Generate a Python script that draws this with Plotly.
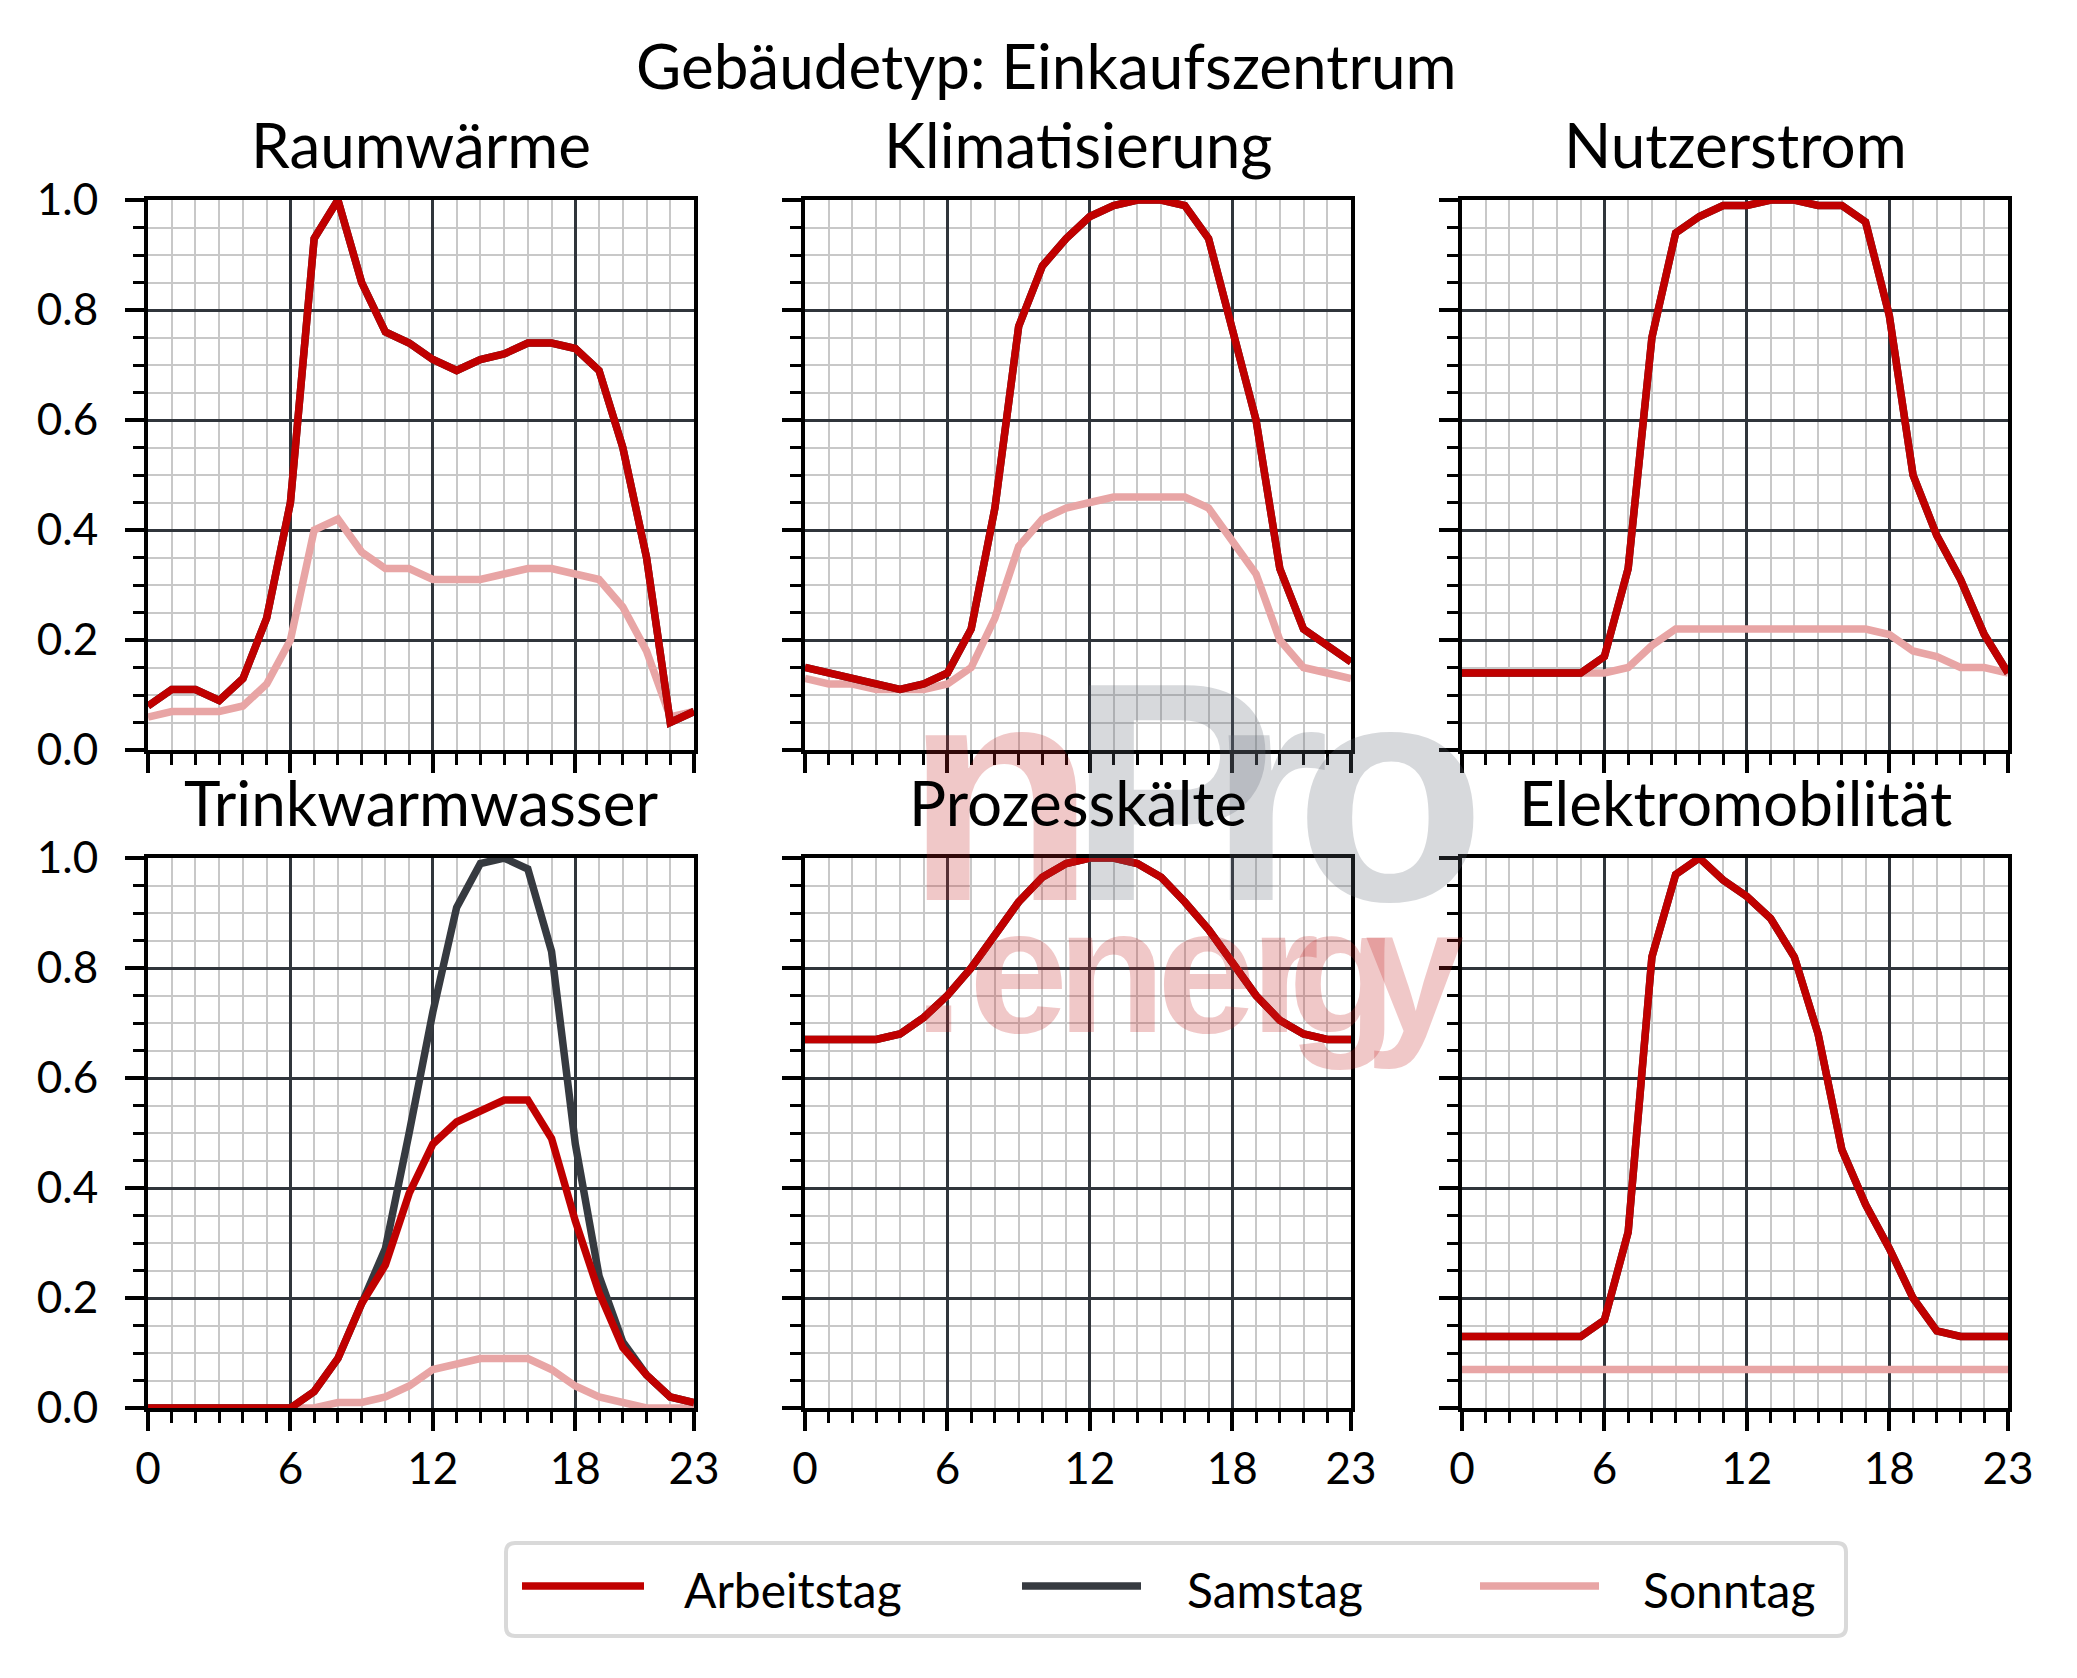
import plotly.graph_objects as go
from plotly.subplots import make_subplots

# Stunden des Tages
stunden = list(range(24))

titel = "Gebäudetyp: Einkaufszentrum"
panel_titel = ["Raumwärme", "Klimatisierung", "Nutzerstrom",
               "Trinkwarmwasser", "Prozesskälte", "Elektromobilität"]
tage = ["Arbeitstag", "Samstag", "Sonntag"]
farben = {"Arbeitstag": "#c00000", "Samstag": "#363a40", "Sonntag": "#e8a5a5"}

x_tickwerte = [0, 6, 12, 18, 23]
y_tickwerte = [0.0, 0.2, 0.4, 0.6, 0.8, 1.0]

# Normierte Tagesprofile
raumwaerme_arbeitstag = [0.08, 0.11, 0.11, 0.09, 0.13, 0.24, 0.45, 0.93, 1.00, 0.85, 0.76, 0.74,
                         0.71, 0.69, 0.71, 0.72, 0.74, 0.74, 0.73, 0.69, 0.55, 0.35, 0.05, 0.07]
raumwaerme_samstag = raumwaerme_arbeitstag
raumwaerme_sonntag = [0.06, 0.07, 0.07, 0.07, 0.08, 0.12, 0.20, 0.40, 0.42, 0.36, 0.33, 0.33,
                      0.31, 0.31, 0.31, 0.32, 0.33, 0.33, 0.32, 0.31, 0.26, 0.18, 0.06, 0.07]

klima_arbeitstag = [0.15, 0.14, 0.13, 0.12, 0.11, 0.12, 0.14, 0.22, 0.44, 0.77, 0.88, 0.93,
                    0.97, 0.99, 1.00, 1.00, 0.99, 0.93, 0.76, 0.60, 0.33, 0.22, 0.19, 0.16]
klima_samstag = klima_arbeitstag
klima_sonntag = [0.13, 0.12, 0.12, 0.11, 0.11, 0.11, 0.12, 0.15, 0.24, 0.37, 0.42, 0.44,
                 0.45, 0.46, 0.46, 0.46, 0.46, 0.44, 0.38, 0.32, 0.20, 0.15, 0.14, 0.13]

nutzer_arbeitstag = [0.14, 0.14, 0.14, 0.14, 0.14, 0.14, 0.17, 0.33, 0.75, 0.94, 0.97, 0.99,
                     0.99, 1.00, 1.00, 0.99, 0.99, 0.96, 0.79, 0.50, 0.39, 0.31, 0.21, 0.14]
nutzer_samstag = nutzer_arbeitstag
nutzer_sonntag = [0.14, 0.14, 0.14, 0.14, 0.14, 0.14, 0.14, 0.15, 0.19, 0.22, 0.22, 0.22,
                  0.22, 0.22, 0.22, 0.22, 0.22, 0.22, 0.21, 0.18, 0.17, 0.15, 0.15, 0.14]

tww_arbeitstag = [0.00, 0.00, 0.00, 0.00, 0.00, 0.00, 0.00, 0.03, 0.09, 0.19, 0.26, 0.39,
                  0.48, 0.52, 0.54, 0.56, 0.56, 0.49, 0.34, 0.21, 0.11, 0.06, 0.02, 0.01]
tww_samstag = [0.00, 0.00, 0.00, 0.00, 0.00, 0.00, 0.00, 0.03, 0.09, 0.19, 0.29, 0.50,
               0.72, 0.91, 0.99, 1.00, 0.98, 0.83, 0.48, 0.24, 0.12, 0.06, 0.02, 0.01]
tww_sonntag = [0.00, 0.00, 0.00, 0.00, 0.00, 0.00, 0.00, 0.00, 0.01, 0.01, 0.02, 0.04,
               0.07, 0.08, 0.09, 0.09, 0.09, 0.07, 0.04, 0.02, 0.01, 0.00, 0.00, 0.00]

kaelte_arbeitstag = [0.67, 0.67, 0.67, 0.67, 0.68, 0.71, 0.75, 0.80, 0.86, 0.92, 0.965, 0.99,
                     1.00, 1.00, 0.99, 0.965, 0.92, 0.87, 0.81, 0.75, 0.705, 0.68, 0.67, 0.67]
kaelte_samstag = kaelte_arbeitstag
kaelte_sonntag = kaelte_arbeitstag

emob_arbeitstag = [0.13, 0.13, 0.13, 0.13, 0.13, 0.13, 0.16, 0.32, 0.82, 0.97, 1.00, 0.96,
                   0.93, 0.89, 0.82, 0.68, 0.47, 0.37, 0.29, 0.20, 0.14, 0.13, 0.13, 0.13]
emob_samstag = emob_arbeitstag
emob_sonntag = [0.07] * 24

profile = [
    {"Arbeitstag": raumwaerme_arbeitstag, "Samstag": raumwaerme_samstag, "Sonntag": raumwaerme_sonntag},
    {"Arbeitstag": klima_arbeitstag, "Samstag": klima_samstag, "Sonntag": klima_sonntag},
    {"Arbeitstag": nutzer_arbeitstag, "Samstag": nutzer_samstag, "Sonntag": nutzer_sonntag},
    {"Arbeitstag": tww_arbeitstag, "Samstag": tww_samstag, "Sonntag": tww_sonntag},
    {"Arbeitstag": kaelte_arbeitstag, "Samstag": kaelte_samstag, "Sonntag": kaelte_sonntag},
    {"Arbeitstag": emob_arbeitstag, "Samstag": emob_samstag, "Sonntag": emob_sonntag},
]

W, H = 2077, 1678
RAND = 8  # Seitenrand des Browsers
FONT = "Lato, 'Open Sans', sans-serif"


def px_x(v):
    return (v - RAND) / W


def px_y(v):
    return 1 - (v - RAND) / H


spalten = [(148, 694), (805, 1351), (1462, 2008)]
zeilen = [(200, 750), (858, 1408)]

fig = make_subplots(rows=2, cols=3)

# Linien: Sonntag zuerst, Arbeitstag oben drauf
for i, daten in enumerate(profile):
    r, c = i // 3 + 1, i % 3 + 1
    for tag in ["Sonntag", "Samstag", "Arbeitstag"]:
        fig.add_trace(
            go.Scatter(x=stunden, y=daten[tag], mode="lines", name=tag,
                       line=dict(color=farben[tag], width=7.5),
                       showlegend=False, hoverinfo="skip"),
            row=r, col=c
        )

# Achsen
gitter_dunkel = "#30353b"
gitter_hell = "#c8c8c8"
for i in range(6):
    r, c = i // 3, i % 3
    sx = "xaxis" if i == 0 else f"xaxis{i + 1}"
    sy = "yaxis" if i == 0 else f"yaxis{i + 1}"
    fig.layout[sx].update(
        domain=[px_x(spalten[c][0]), px_x(spalten[c][1])], automargin=False,
        range=[0, 23], tickmode="array", tickvals=x_tickwerte,
        ticktext=[str(v) for v in x_tickwerte], showticklabels=(r == 1),
        ticks="outside", ticklen=19, tickwidth=3.5, tickcolor="black",
        showline=True, linewidth=4, linecolor="black", mirror=True,
        showgrid=True, gridcolor=gitter_dunkel, gridwidth=2.5, zeroline=False,
        minor=dict(tickmode="linear", tick0=0, dtick=1, ticks="outside", ticklen=11,
                   tickwidth=3, tickcolor="black", showgrid=True,
                   gridcolor=gitter_hell, gridwidth=2),
        tickfont=dict(family=FONT, size=44, color="black"),
    )
    fig.layout[sy].update(
        domain=[px_y(zeilen[r][1]), px_y(zeilen[r][0])], automargin=False,
        range=[0, 1], tickmode="array", tickvals=y_tickwerte,
        ticktext=[f"{v:.1f}" for v in y_tickwerte], showticklabels=(c == 0),
        ticks="outside", ticklen=19, tickwidth=3.5, tickcolor="black",
        ticklabelstandoff=18,
        showline=True, linewidth=4, linecolor="black", mirror=True,
        showgrid=True, gridcolor=gitter_dunkel, gridwidth=2.5, zeroline=False,
        minor=dict(tickmode="linear", tick0=0, dtick=0.05, ticks="outside", ticklen=11,
                   tickwidth=3, tickcolor="black", showgrid=True,
                   gridcolor=gitter_hell, gridwidth=2),
        tickfont=dict(family=FONT, size=44, color="black"),
    )

annos = []

# Wasserzeichen nPro .energy
wm_rot = "rgba(195,35,35,0.25)"
wm_grau = "rgba(95,103,115,0.25)"
wm_font = "'Liberation Sans', Arial, sans-serif"
for buchst, xc, farbe in [("n", 1000, wm_rot), ("P", 1172, wm_grau),
                          ("r", 1268, wm_grau), ("o", 1390, wm_grau)]:
    annos.append(dict(text=f"<b>{buchst}</b>", x=px_x(xc), y=px_y(792), xref="paper", yref="paper",
                      xanchor="center", yanchor="middle", showarrow=False,
                      font=dict(family=wm_font, size=312, color=farbe)))
for buchst, xc in [(".", 938), ("e", 1018), ("n", 1111), ("e", 1206),
                   ("r", 1284), ("g", 1342), ("y", 1414)]:
    annos.append(dict(text=f"<b>{buchst}</b>", x=px_x(xc), y=px_y(970), xref="paper", yref="paper",
                      xanchor="center", yanchor="middle", showarrow=False,
                      font=dict(family=wm_font, size=178, color=wm_rot)))

# Titel
annos.append(dict(text=titel, x=px_x(1046), y=px_y(104), xref="paper", yref="paper",
                  xanchor="center", yanchor="bottom", showarrow=False,
                  font=dict(family=FONT, size=62, color="black")))
for i, t in enumerate(panel_titel):
    r, c = i // 3, i % 3
    basis = 183 if r == 0 else 841
    annos.append(dict(text=t, x=px_x((spalten[c][0] + spalten[c][1]) / 2), y=px_y(basis),
                      xref="paper", yref="paper", xanchor="center", yanchor="bottom",
                      showarrow=False, font=dict(family=FONT, size=62, color="black")))

# Legende (manuell, mit langen Linienmustern)
shapes = []
lx0, lx1, ly0, ly1, rad = 506, 1846, 1543, 1636, 9
rx, ry = rad / W, rad / H
a, b, cc, d = px_x(lx0), px_x(lx1), px_y(ly0), px_y(ly1)
pfad = (f"M{a + rx},{cc} L{b - rx},{cc} Q{b},{cc} {b},{cc - ry} L{b},{d + ry} "
        f"Q{b},{d} {b - rx},{d} L{a + rx},{d} Q{a},{d} {a},{d + ry} L{a},{cc - ry} "
        f"Q{a},{cc} {a + rx},{cc} Z")
shapes.append(dict(type="path", path=pfad, xref="paper", yref="paper",
                   line=dict(color="#d9d9d9", width=4), fillcolor="white", layer="below"))
for tag, (x0, x1), tx in zip(tage, [(522, 644), (1022, 1141), (1480, 1599)], [682, 1185, 1641]):
    shapes.append(dict(type="line", xref="paper", yref="paper", x0=px_x(x0), x1=px_x(x1),
                       y0=px_y(1586), y1=px_y(1586), line=dict(color=farben[tag], width=7.5)))
    annos.append(dict(text=tag, x=px_x(tx), y=px_y(1589), xref="paper", yref="paper",
                      xanchor="left", yanchor="middle", showarrow=False,
                      font=dict(family=FONT, size=48, color="black")))

fig.update_layout(
    width=W, height=H,
    margin=dict(l=0, r=0, t=0, b=0),
    paper_bgcolor="white", plot_bgcolor="white",
    showlegend=False,
    annotations=annos,
    shapes=shapes,
    font=dict(family=FONT, color="black"),
)

fig.write_html("out.html")
